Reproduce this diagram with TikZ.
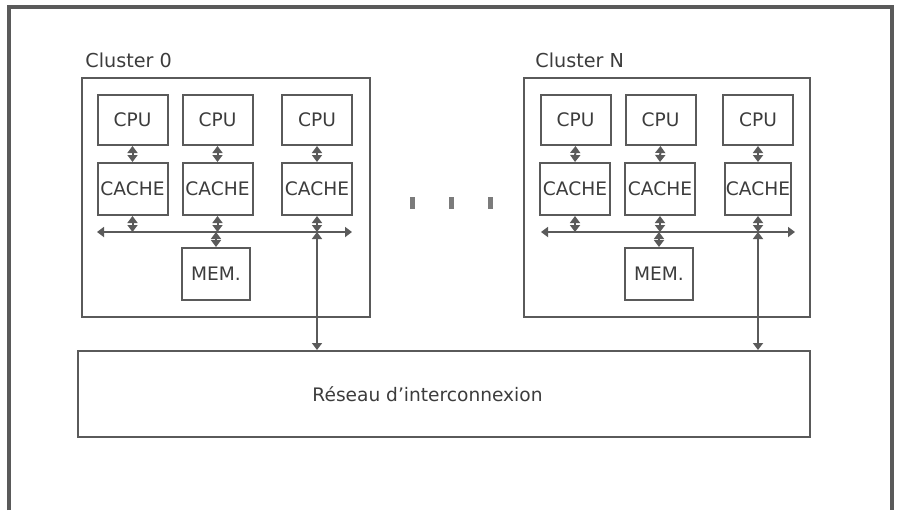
\documentclass[tikz,border=0pt]{standalone}
\usepackage{fontspec}
\setmainfont{DejaVu Sans}
\usetikzlibrary{arrows.meta}
\definecolor{ink}{HTML}{5A5A5A}
\definecolor{txt}{HTML}{3C3C3C}
\tikzset{
  unit/.style={draw=ink, line width=1pt, inner sep=0pt, text=txt,
    font=\fontsize{9.3pt}{11pt}\selectfont, minimum width=35pt},
  cpubox/.style={unit, minimum height=25pt},
  cachebox/.style={unit, minimum height=26pt},
  clusterbox/.style={draw=ink, line width=1pt, inner sep=0pt},
  caption/.style={text=txt, inner sep=0pt, font=\fontsize{9.6pt}{11pt}\selectfont},
  link/.style={draw=ink, line width=1pt,
    {Triangle[length=3.5pt,width=5pt]}-{Triangle[length=3.5pt,width=5pt]}},
  frameline/.style={draw=ink, line width=1.6pt},
  dot/.style={fill=ink!80, draw=none}
}
\begin{document}
\begin{tikzpicture}[x=0.5pt, y=-0.5pt]
\useasboundingbox (0,0) rectangle (900,510);

% outer frame (open at the bottom)
\draw[frameline] (9,510) -- (9,7) -- (892,7) -- (892,510);

% ---------------- Cluster 0 ----------------
\node[caption, anchor=base west] (lab0) at (85,67) {Cluster 0};
\node[clusterbox, minimum width=144pt, minimum height=119.5pt] (cl0) at (226,197.5) {};

\node[cpubox] (c0p1) at (132.5,120) {CPU};
\node[cpubox] (c0p2) at (217.5,120) {CPU};
\node[cpubox] (c0p3) at (317,120) {CPU};
\node[cachebox] (c0k1) at (132.5,189) {CACHE};
\node[cachebox] (c0k2) at (217.5,189) {CACHE};
\node[cachebox] (c0k3) at (317,189) {CACHE};
\node[cachebox, minimum width=34pt] (c0m) at (216,274) {MEM.};

\coordinate (b0L) at (97,232);
\coordinate (b0R) at (352,232);
\draw[link] (b0L) -- (b0R);

\foreach \i in {1,2,3} {
  \draw[link] (c0p\i.south) -- (c0k\i.north);
  \draw[link] (c0k\i.south) -- (c0k\i.south |- b0L);
}
\draw[link] (c0m.north |- b0L) -- (c0m.north);

% ---------------- Cluster N ----------------
\node[caption, anchor=base west] (labN) at (535,67) {Cluster N};
\node[clusterbox, minimum width=143pt, minimum height=119.5pt] (clN) at (667,197.5) {};

\node[cpubox] (cNp1) at (575.5,120) {CPU};
\node[cpubox] (cNp2) at (660.5,120) {CPU};
\node[cpubox] (cNp3) at (758,120) {CPU};
\node[cachebox] (cNk1) at (575,189) {CACHE};
\node[cachebox] (cNk2) at (660,189) {CACHE};
\node[cachebox, minimum width=33pt] (cNk3) at (758,189) {CACHE};
\node[cachebox, minimum width=34pt] (cNm) at (659,274) {MEM.};

\coordinate (bNL) at (541,232);
\coordinate (bNR) at (795,232);
\draw[link] (bNL) -- (bNR);

\foreach \i in {1,2,3} {
  \draw[link] (cNp\i.south) -- (cNk\i.north);
  \draw[link] (cNk\i.south) -- (cNk\i.south |- bNL);
}
\draw[link] (cNm.north |- bNL) -- (cNm.north);

% ---------------- dots between clusters ----------------
\fill[dot] (409.5,197) rectangle (414.5,209);
\fill[dot] (448.5,197) rectangle (453.5,209);
\fill[dot] (487.5,197) rectangle (492.5,209);

% ---------------- interconnection network ----------------
\node[clusterbox, minimum width=366pt, minimum height=43pt] (net) at (444,394) {};
\node[caption, font=\fontsize{9.3pt}{11pt}\selectfont, anchor=base] (netlab) at (427.5,401) {Réseau d\symbol{"0027}interconnexion};

\draw[link] (c0k3.south |- b0L) -- (c0k3.south |- net.north);
\draw[link] (cNk3.south |- bNL) -- (cNk3.south |- net.north);
\end{tikzpicture}
\end{document}
